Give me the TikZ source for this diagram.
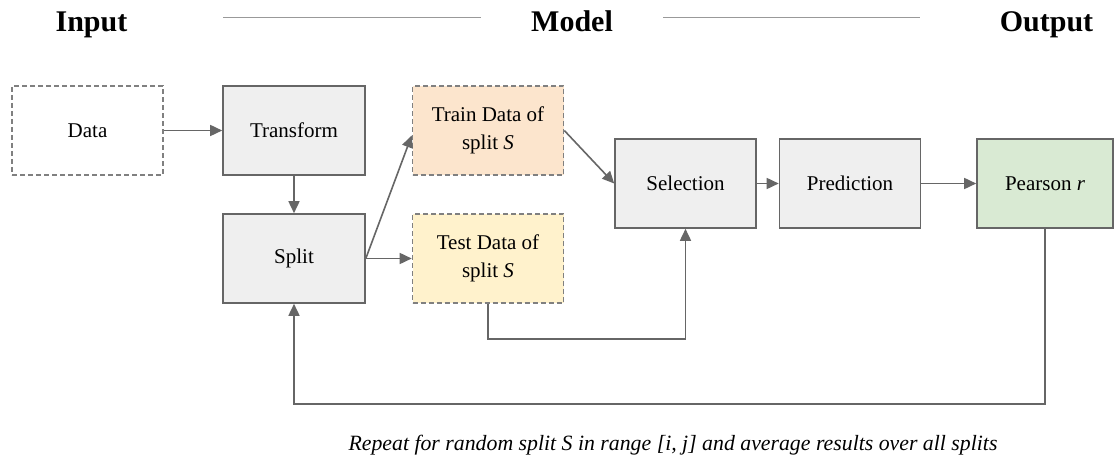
\documentclass[tikz,border=0pt]{standalone}
\usepackage{fontspec}
\setmainfont{Liberation Serif}
\usetikzlibrary{arrows.meta}
\definecolor{boxgray}{HTML}{EFEFEF}
\definecolor{edgegray}{HTML}{666666}
\definecolor{dashgray}{HTML}{808080}
\definecolor{rulegray}{HTML}{999999}
\definecolor{trainfill}{HTML}{FCE5CD}
\definecolor{testfill}{HTML}{FFF2CC}
\definecolor{resultfill}{HTML}{D9EAD3}
\tikzset{
  stage/.style={draw=edgegray, line width=1.6pt, fill=boxgray, minimum width=142pt,
    minimum height=89pt, align=center, inner sep=0pt,
    font=\fontsize{21}{28}\selectfont},
  dashbox/.style={stage, draw=dashgray, dash pattern=on 5pt off 3pt, minimum width=151pt},
  flow/.style={draw=edgegray, line width=1.6pt, -{Triangle[length=12pt,width=11pt]}},
  heading/.style={font=\fontsize{30}{34}\selectfont\bfseries, anchor=base, inner sep=0pt},
  headrule/.style={draw=rulegray, line width=1.7pt}
}
\begin{document}
\begin{tikzpicture}[x=1pt,y=-1pt]
\useasboundingbox[fill=white] (0,0) rectangle (1114,457);

% column headings
\node[heading] (hin)  at (91.5,32)  {Input};
\node[heading] (hmod) at (572,32)   {Model};
\node[heading] (hout) at (1046.5,32) {Output};
\coordinate (r1a) at (223,17.5);
\coordinate (r1b) at (481,17.5);
\coordinate (r2a) at (663,17.5);
\coordinate (r2b) at (920,17.5);
\draw[headrule] (r1a) -- (r1b);
\draw[headrule] (r2a) -- (r2b);

% stages
\node[dashbox, fill=white]     (data)       at (87.5,130.5)  {Data};
\node[stage]                   (transform)  at (294,130.5)   {Transform};
\node[dashbox, fill=trainfill] (train)      at (488,130.5)   {Train Data of\\split \textit{S}};
\node[stage, minimum width=141pt] (selection)  at (685.5,183.5) {Selection};
\node[stage, minimum width=141pt] (prediction) at (850,183.5)   {Prediction};
\node[stage, fill=resultfill, minimum width=136pt] (pearson) at (1045,183.5) {Pearson \textit{r}};
\node[stage]                   (split)      at (294,258.5)   {Split};
\node[dashbox, fill=testfill]  (test)       at (488,258.5)   {Test Data of\\split \textit{S}};

% connectors
\draw[flow] (data) -- (transform);
\draw[flow] (transform) -- (split);
\draw[flow] (split.east) -- ([yshift=-5pt]train.west);
\draw[flow] (split) -- (test);
\draw[flow] (train.east) -- (selection.west);
\draw[flow] (selection) -- (prediction);
\draw[flow] (prediction) -- (pearson);
\draw[flow] (test.south) -- ++(0,35) -| (selection.south);
\draw[flow] (pearson.south) -- ++(0,175) -| (split.south);

% caption
\node[anchor=base, inner sep=0pt, font=\fontsize{21.8}{26}\selectfont\itshape] (note) at (673,450)
  {Repeat for random split S in range [i, j] and average results over all splits};
\end{tikzpicture}
\end{document}
